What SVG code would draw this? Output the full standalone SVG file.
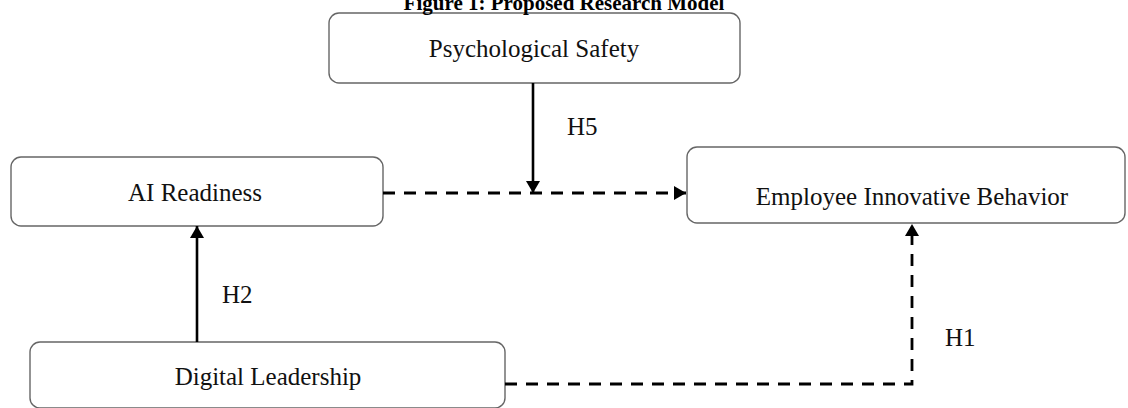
<svg xmlns="http://www.w3.org/2000/svg" width="1128" height="408" viewBox="0 0 1128 408">
<defs>
<style>
.box{fill:#fff;stroke:#666;stroke-width:1.4}
.lbl{font-family:"Liberation Serif","Times New Roman",serif;font-size:25px;fill:#111;text-anchor:middle}
.h{font-family:"Liberation Serif","Times New Roman",serif;font-size:25px;fill:#111}
.solid{fill:none;stroke:#000;stroke-width:2.6}
.dash{fill:none;stroke:#000;stroke-width:2.8;stroke-dasharray:12 9}
</style>
<marker id="arr" markerUnits="userSpaceOnUse" markerWidth="14" markerHeight="14" viewBox="0 0 12 14" refX="12" refY="7" orient="auto">
<path d="M0,0 L12,7 L0,14 Z" fill="#000"/>
</marker>
</defs>
<rect width="1128" height="408" fill="#fff"/>
<g id="psychological-safety">
<rect class="box" x="329" y="13" width="411" height="70" rx="10"/>
<text class="lbl" x="534" y="57">Psychological Safety</text>
</g>
<g id="ai-readiness">
<rect class="box" x="11" y="157" width="372" height="69" rx="10"/>
<text class="lbl" x="195" y="201">AI Readiness</text>
</g>
<g id="employee-innovative-behavior">
<rect class="box" x="687" y="147" width="438" height="76" rx="10"/>
<text class="lbl" x="912" y="205">Employee Innovative Behavior</text>
</g>
<g id="digital-leadership">
<rect class="box" x="30" y="342" width="475" height="66" rx="10"/>
<text class="lbl" x="268" y="385">Digital Leadership</text>
</g>
<g id="connectors">
<path class="dash" d="M383,193 H686" marker-end="url(#arr)"/>
<path class="solid" d="M533,83 V193" marker-end="url(#arr)"/>
<path class="solid" d="M197,342 V226" marker-end="url(#arr)"/>
<path class="dash" d="M505,384 H912 V224" marker-end="url(#arr)"/>
<text class="h" x="567" y="135">H5</text>
<text class="h" x="222" y="303">H2</text>
<text class="h" x="945" y="346">H1</text>
</g>
<text x="564" y="10" style="font-family:'Liberation Serif','Times New Roman',serif;font-size:21px;font-weight:bold;text-anchor:middle;fill:#000">Figure 1: Proposed Research Model</text>
</svg>
